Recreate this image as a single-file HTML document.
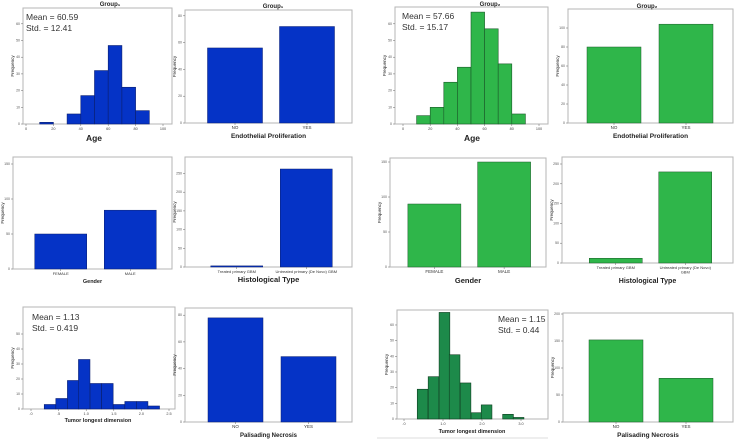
<!DOCTYPE html>
<html><head><meta charset="utf-8">
<style>
html,body{margin:0;padding:0;background:#fff;}
svg{display:block;font-family:"Liberation Sans",Arial,sans-serif;}
</style></head>
<body>
<svg id="c" width="735" height="442" viewBox="0 0 735 442" xmlns="http://www.w3.org/2000/svg"></svg>
<script>
// ---- data ----
const ageBins1 = [10,30,40,50,60,70,80];
const ageCounts1 = [1,6,17,32,47,22,8];
const ageTicks = [0,20,40,60,80,100];
const ageYTicks = [0,10,20,30,40,50,60];
const endoCats = ["NO","YES"];
const endoVals1 = [56,72];
const endoTicks1 = [0,20,40,60,80];
const ageBins2 = [10,20,30,40,50,60,70,80];
const ageCounts2 = [5,10,25,34,67,57,36,6];
const endoVals2 = [80,104];
const endoTicks2 = [0,20,40,60,80,100];
const genderCats = ["FEMALE","MALE"];
const genderVals1 = [50,84];
const genderVals2 = [90,150];
const genderTicks = [0,50,100,150];
const histoCats = ["Treated primary GBM","Untreated primary (De Novo) GBM"];
const histoCats2 = ["Treated primary GBM","Untreated primary (De Novo)|GBM"];
const histoVals1 = [3,262];
const histoVals2 = [12,230];
const histoTicks = [0,50,100,150,200,250];
const tumBins1 = [0.24,0.45,0.66,0.86,1.07,1.28,1.49,1.70,1.91,2.12];
const tumCounts1 = [3,7,19,33,17,17,3,5,5,2];
const tumXTicks1 = [0,0.5,1.0,1.5,2.0,2.5];
const tumXLabels1 = [".0",".5","1.0","1.5","2.0","2.5"];
const tumYTicks1 = [0,10,20,30,40,50];
const tumBins2 = [0.34,0.62,0.90,1.16,1.44,1.72,1.98,2.26,2.53,2.80];
const tumCounts2 = [19,27,68,41,23,4,9,0,3,1];
const tumXTicks2 = [0,1,2,3];
const tumXLabels2 = [".0","1.0","2.0","3.0"];
const tumYTicks2 = [0,10,20,30,40,50,60];
const palCats = ["NO","YES"];
const palVals1 = [78,49];
const palTicks1 = [0,20,40,60,80];
const palVals2 = [152,81];
const palTicks2 = [0,50,100,150,200];

const BLUE="#0533c6", GREEN="#2fb64a", DGREEN="#1d8a4a";
const svg=document.getElementById('c');
const NS="http://www.w3.org/2000/svg";
function el(tag,attrs,parent){const e=document.createElementNS(NS,tag);for(const k in attrs)e.setAttribute(k,attrs[k]);(parent||svg).appendChild(e);return e;}
function txt(s,x,y,size,opts,parent){const t=el('text',Object.assign({x:x,y:y,'font-size':size,fill:'#222'},opts||{}),parent);t.textContent=s;return t;}

function frame(g,p){
  const r=el('rect',{x:p.fx,y:p.fy,width:p.fw,height:p.fh,fill:'none',stroke:'#b5b5b5','stroke-width':1},g);
  
  
  const yl=txt('Frequency',0,0,4.5,{transform:`translate(${p.fx-9},${p.fy+p.fh/2}) rotate(-90)`,'text-anchor':'middle'},g);
  
  
}
function yAxis(g,p,ticks,ys){
  ticks.forEach(v=>{
    const y=ys(v);
    el('line',{x1:p.fx-2,x2:p.fx,y1:y,y2:y,stroke:'#666','stroke-width':0.5},g);
    const t=txt(String(v),p.fx-3,y+1,3.5,{'text-anchor':'end',fill:'#555'},g);
    
    
  });
}
function title(g,s,x,y,size,name){const t=txt(s,x,y,size,{'text-anchor':'middle','font-weight':'bold'},g);}

function hist(p,bins,counts,bw,xt,xl,yt){
  const g=el('g',{});
  
  
  frame(g,p);
  const xs=v=>p.p0+(v-p.v0)*(p.p1-p.p0)/(p.v1-p.v0);
  const ys=v=>p.fy+p.fh-v*p.k;
  yAxis(g,p,yt,ys);
  bins.forEach((b,i)=>{
    if(counts[i]<=0)return;
    const r=el('rect',{x:xs(b),y:ys(counts[i]),width:xs(b+bw)-xs(b),height:counts[i]*p.k,fill:p.color,stroke:p.stroke,'stroke-width':0.6},g);
    
    
  });
  xt.forEach((v,i)=>{
    const x=xs(v);
    el('line',{x1:x,x2:x,y1:p.fy+p.fh,y2:p.fy+p.fh+2,stroke:'#666','stroke-width':0.5},g);
    const t=txt(xl[i],x,p.fy+p.fh+6,3.8,{'text-anchor':'middle',fill:'#444'},g);
    
    
  });
  title(g,p.xt,p.xtx,p.xty,p.xts,'x-axis-title');
  if(p.title)title(g,p.title,p.tx,p.ty,6,'chart-title');
  const m=txt(p.mean,p.sx,p.sy,8.5,{fill:'#333'},g);
  
  
  const s=txt(p.std,p.sx,p.sy+11,8.5,{fill:'#333'},g);
  
  
}
function cat(p,cats,vals,yt){
  const g=el('g',{});
  
  
  frame(g,p);
  const bottom=p.fy+p.fh;
  const ys=v=>bottom-v*p.k;
  yAxis(g,p,yt,ys);
  const step=(p.b-p.a)/cats.length;
  cats.forEach((c,i)=>{
    const cx=p.a+(i+0.5)*step;
    const r=el('rect',{x:cx-p.bw/2,y:ys(vals[i]),width:p.bw,height:vals[i]*p.k,fill:p.color,stroke:p.stroke,'stroke-width':0.5},g);
    
    
    el('line',{x1:cx,x2:cx,y1:bottom,y2:bottom+2,stroke:'#666','stroke-width':0.5},g);
    c.split('|').forEach((ln,j)=>{
      const t=txt(ln,cx,bottom+6+j*4.5,p.cs||4.5,{'text-anchor':'middle',fill:'#333'},g);
      
      
    });
  });
  title(g,p.xt,(p.fx+p.fx+p.fw)/2,p.xty,p.xts,'x-axis-title');
  if(p.title)title(g,p.title,p.tx,p.ty,6,'chart-title');
}

hist({name:'age-histogram-group1',fx:23,fy:8,fw:149,fh:116,v0:0,p0:26,v1:100,p1:163,k:1.67,color:BLUE,stroke:'#0a1f70',xt:'Age',xtx:94,xty:141,xts:8.5,title:'Group\u2081',tx:110,ty:6,mean:'Mean = 60.59',std:'Std. = 12.41',sx:26,sy:20},ageBins1,ageCounts1,10,ageTicks,ageTicks.map(String),ageYTicks);
cat({name:'endothelial-bar-group1',fx:185,fy:10,fw:167,fh:113,k:1.34,a:199,b:343,bw:55,color:BLUE,stroke:'#0a1f70',xt:'Endothelial Proliferation',xty:138,xts:6.5,title:'Group\u2081',tx:273,ty:8},endoCats,endoVals1,endoTicks1);
hist({name:'age-histogram-group2',fx:395,fy:7,fw:153,fh:117,v0:0,p0:403,v1:100,p1:539,k:1.67,color:GREEN,stroke:'#1c5a2a',xt:'Age',xtx:472,xty:141,xts:8.5,title:'Group\u2082',tx:490,ty:6,mean:'Mean = 57.66',std:'Std. = 15.17',sx:402,sy:19},ageBins2,ageCounts2,10,ageTicks,ageTicks.map(String),ageYTicks);
cat({name:'endothelial-bar-group2',fx:568,fy:9,fw:165,fh:114,k:0.95,a:578,b:722,bw:54,color:GREEN,stroke:'#1c5a2a',xt:'Endothelial Proliferation',xty:138,xts:6.5,title:'Group\u2082',tx:647,ty:8},endoCats,endoVals2,endoTicks2);

cat({name:'gender-bar-group1',fx:13,fy:157,fw:159,fh:112,k:0.7,a:26,b:165,bw:52,color:BLUE,stroke:'#0a1f70',xt:'Gender',xty:283,xts:5.5,cs:4},genderCats,genderVals1,genderTicks);
cat({name:'histological-bar-group1',fx:185,fy:157,fw:167,fh:110,k:0.374,a:202,b:341,bw:52,color:BLUE,stroke:'#0a1f70',xt:'Histological Type',xty:282,xts:7.5,cs:4},histoCats,histoVals1,histoTicks);
cat({name:'gender-bar-group2',fx:390,fy:158,fw:156,fh:109,k:0.7,a:399.5,b:539,bw:53,color:GREEN,stroke:'#1c5a2a',xt:'Gender',xty:283,xts:7.5},genderCats,genderVals2,genderTicks);
cat({name:'histological-bar-group2',fx:562,fy:157,fw:171,fh:106,k:0.396,a:581,b:720,bw:53,color:GREEN,stroke:'#1c5a2a',xt:'Histological Type',xty:283,xts:7,cs:4},histoCats2,histoVals2,histoTicks);

hist({name:'tumor-histogram-group1',fx:23,fy:307,fw:152,fh:102,v0:0,p0:31,v1:2.5,p1:169,k:1.5,color:BLUE,stroke:'#0a1f70',xt:'Tumor longest dimension',xtx:98,xty:422,xts:5.5,mean:'Mean =  1.13',std:'Std. = 0.419',sx:32,sy:320},tumBins1,tumCounts1,0.208,tumXTicks1,tumXLabels1,tumYTicks1);
cat({name:'palisading-bar-group1',fx:185,fy:308,fw:167,fh:114,k:1.335,a:199,b:345,bw:55,color:BLUE,stroke:'#0a1f70',xt:'Palisading Necrosis',xty:437,xts:6},palCats,palVals1,palTicks1);
hist({name:'tumor-histogram-group2',fx:397,fy:310,fw:151,fh:109,v0:0,p0:404,v1:3,p1:521,k:1.567,color:DGREEN,stroke:'#0f3d20',xt:'Tumor longest dimension',xtx:472,xty:433,xts:5.5,mean:'Mean =  1.15',std:'Std. = 0.44',sx:498,sy:322},tumBins2,tumCounts2,0.275,tumXTicks2,tumXLabels2,tumYTicks2);
cat({name:'palisading-bar-group2',fx:563,fy:313,fw:170,fh:109,k:0.54,a:581,b:721,bw:54,color:GREEN,stroke:'#1c5a2a',xt:'Palisading Necrosis',xty:437,xts:6.5},palCats,palVals2,palTicks2);
const sep=el('line',{x1:377,x2:548,y1:438,y2:438,stroke:'#ddd','stroke-width':1});


</script>
</body></html>
